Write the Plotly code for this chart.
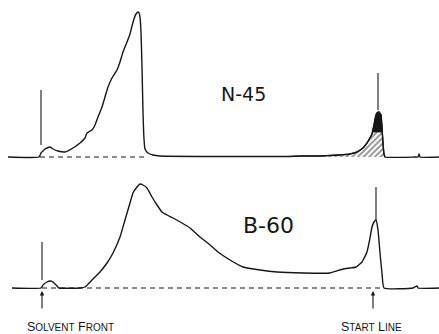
import numpy as np
import plotly.graph_objects as go

# ---- Data (x = migration distance, h = detector signal) ----
# N-45 trace
n45_x = [8, 39, 41, 43, 45, 47, 50, 53, 58, 65, 73, 80, 85, 87, 92, 95, 98, 102, 105, 108, 112, 117,
         120, 123, 127, 130, 132, 134, 136, 138, 139, 140, 141, 142, 143, 144, 145, 148, 153, 160,
         287, 300, 320, 340, 350, 357, 363, 367, 370, 372, 374, 375, 376, 377, 379, 381, 382, 383,
         384, 385, 415, 418, 419, 420, 439]
n45_h = [0, 0, 4, 6, 8, 9, 10, 8, 6, 5, 9, 14, 19, 24, 27, 32, 40, 50, 60, 70, 79, 87,
         95, 105, 115, 123, 131, 138, 143, 145, 144, 140, 125, 90, 45, 18, 8, 4, 2, 1,
         0.5, 1, 1, 2, 3, 5, 9, 14, 19, 23, 32, 38, 42, 44, 45, 42, 30, 12,
         3, 0, 0, 0, 3, 0, 0]
n45_hatch_start = 287
n45_hatch_end = 385
n45_black_level = 25

# B-60 trace
b60_x = [12, 41, 43, 47, 50, 53, 57, 59, 80, 85, 92, 100, 107, 113, 120, 125, 130, 133, 137, 140,
         143, 147, 152, 157, 162, 167, 173, 182, 190, 200, 210, 218, 230, 243, 260, 277, 303, 330,
         343, 350, 356, 362, 367, 370, 372, 374, 376, 378, 380, 382, 384, 413, 417, 418, 439]
b60_h = [0, 0, 3, 6, 7, 6, 2, 0, 0, 1, 8, 16, 25, 35, 51, 68, 85, 95, 101, 104,
         103, 100, 91, 83, 76, 73, 70, 65, 60, 51, 43, 36, 28, 21, 18, 16, 15, 15,
         19, 20, 21, 26, 36, 50, 61, 66, 68, 58, 35, 15, 0, 0, 2, 0, 0]

# Dashed base lines (x extent)
n45_dash = [40, 148]
b60_dash = [42, 383]

# Vertical marker lines: x, bottom h, top h
n45_marks = [(41, 12, 67), (378, 47, 84)]
b60_marks = [(42, 8, 46), (376, 68, 101)]

# Labels
sample_labels = ["N-45", "B-60"]
arrow_x = [42, 373]

INK = "#161616"
fig = go.Figure()

# ---------- Top panel (N-45) ----------
fig.add_trace(go.Scatter(x=n45_dash, y=[0, 0], mode="lines",
                         line=dict(color=INK, width=1.2, dash="5px,4px"),
                         xaxis="x", yaxis="y", hoverinfo="skip"))
hx = np.array([x for x in n45_x if n45_hatch_start <= x <= n45_hatch_end], dtype=float)
hh = np.array([h for x, h in zip(n45_x, n45_h) if n45_hatch_start <= x <= n45_hatch_end], dtype=float)
fig.add_trace(go.Scatter(x=hx, y=hh, mode="lines", fill="tozeroy",
                         fillcolor="white",
                         fillpattern=dict(shape="/", fgcolor=INK, bgcolor="white", size=4, solidity=0.45),
                         line=dict(color=INK, width=1.2), xaxis="x", yaxis="y", hoverinfo="skip"))
# black filled tip of the peak: polygon of the part above the black level
above = hh > n45_black_level
idx = np.where(above)[0]
i0, i1 = idx[0], idx[-1]
xl = np.interp(n45_black_level, [hh[i0 - 1], hh[i0]], [hx[i0 - 1], hx[i0]])
xr = np.interp(n45_black_level, [hh[i1 + 1], hh[i1]], [hx[i1 + 1], hx[i1]])
bx = [xl] + list(hx[i0:i1 + 1]) + [xr, xl]
by = [n45_black_level] + list(hh[i0:i1 + 1]) + [n45_black_level, n45_black_level]
fig.add_trace(go.Scatter(x=bx, y=by, mode="lines", fill="toself", fillcolor=INK,
                         line=dict(width=0.8, color=INK), xaxis="x", yaxis="y", hoverinfo="skip"))
fig.add_trace(go.Scatter(x=n45_x, y=n45_h, mode="lines",
                         line=dict(color=INK, width=1.4, shape="spline", smoothing=0.4),
                         xaxis="x", yaxis="y", hoverinfo="skip"))
for mx, lo, hi in n45_marks:
    fig.add_trace(go.Scatter(x=[mx, mx], y=[lo, hi], mode="lines",
                             line=dict(color=INK, width=1.1), xaxis="x", yaxis="y", hoverinfo="skip"))

# ---------- Bottom panel (B-60) ----------
fig.add_trace(go.Scatter(x=b60_dash, y=[0, 0], mode="lines",
                         line=dict(color=INK, width=1.2, dash="5px,4px"),
                         xaxis="x2", yaxis="y2", hoverinfo="skip"))
fig.add_trace(go.Scatter(x=b60_x, y=b60_h, mode="lines",
                         line=dict(color=INK, width=1.4, shape="spline", smoothing=0.4),
                         xaxis="x2", yaxis="y2", hoverinfo="skip"))
for mx, lo, hi in b60_marks:
    fig.add_trace(go.Scatter(x=[mx, mx], y=[lo, hi], mode="lines",
                             line=dict(color=INK, width=1.1), xaxis="x2", yaxis="y2", hoverinfo="skip"))

W, H = 439, 334
split = 170  # pixel row where the panels meet
ax_common = dict(range=[0, W], visible=False, fixedrange=True)
fig.update_layout(
    width=W, height=H,
    margin=dict(l=0, r=0, t=0, b=0),
    paper_bgcolor="white", plot_bgcolor="white",
    showlegend=False,
    xaxis=dict(domain=[0, 1], anchor="y", **ax_common),
    xaxis2=dict(domain=[0, 1], anchor="y2", **ax_common),
    yaxis=dict(domain=[1 - split / H, 1], range=[157 - split, 157], visible=False, fixedrange=True),
    yaxis2=dict(domain=[0, 1 - split / H], range=[288 - H, 288 - split], visible=False, fixedrange=True),
    font=dict(family="DejaVu Sans, Arial, sans-serif", color=INK),
)

fig.add_annotation(x=243, y=63, xref="x", yref="y", text=sample_labels[0], showarrow=False,
                   font=dict(size=19, family="DejaVu Sans, sans-serif", color=INK))
fig.add_annotation(x=268, y=63, xref="x2", yref="y2", text=sample_labels[1], showarrow=False,
                   font=dict(size=22, family="DejaVu Sans, sans-serif", color=INK))

small = "<span style='font-size:10px'>"
fig.add_annotation(x=70, y=-39, xref="x2", yref="y2",
                   text="S" + small + "OLVENT</span> F" + small + "RONT</span>",
                   showarrow=False, font=dict(size=12.5, family="Liberation Sans, Arial", color=INK))
fig.add_annotation(x=371, y=-39, xref="x2", yref="y2",
                   text="S" + small + "TART</span> L" + small + "INE</span>",
                   showarrow=False, font=dict(size=12.5, family="Liberation Sans, Arial", color=INK))
for axx in arrow_x:
    fig.add_annotation(x=axx, y=-3, xref="x2", yref="y2", ax=axx, ay=-22, axref="x2", ayref="y2",
                       text="", showarrow=True, arrowhead=2, arrowsize=0.8, arrowwidth=1.1,
                       arrowcolor=INK)

fig.write_html("out.html", config={"displayModeBar": False, "staticPlot": True},
               post_script="document.body.style.margin='0';document.body.style.padding='0';")
